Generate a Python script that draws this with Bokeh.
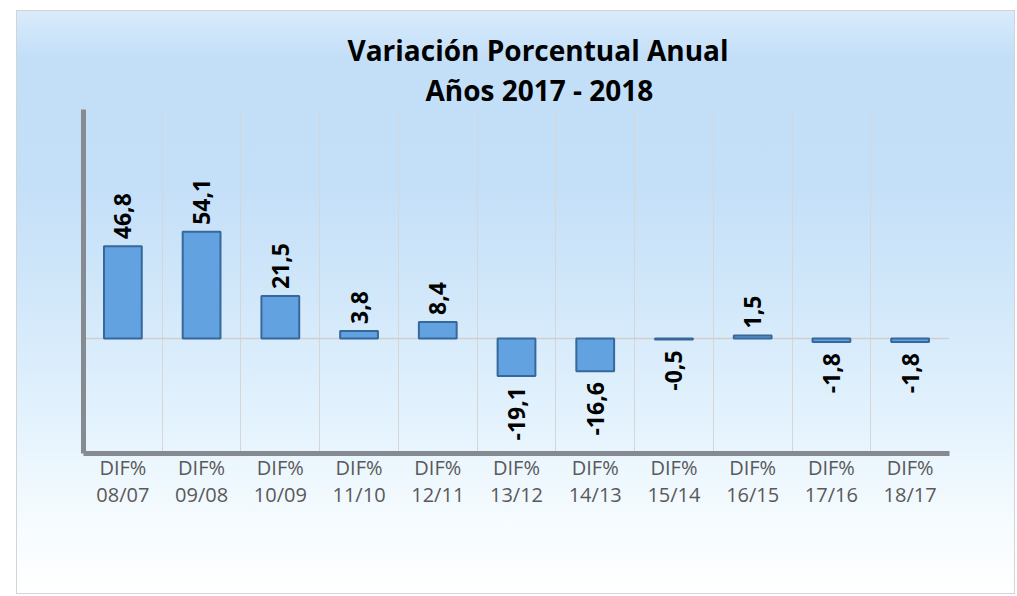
import math
from bokeh.plotting import figure
from bokeh.models import ColumnDataSource, Range1d, FixedTicker, Title
from bokeh.core.properties import value
from bokeh.embed import file_html
from bokeh.resources import INLINE

# ---- data ----
categories = ["DIF%\n08/07", "DIF%\n09/08", "DIF%\n10/09", "DIF%\n11/10", "DIF%\n12/11",
              "DIF%\n13/12", "DIF%\n14/13", "DIF%\n15/14", "DIF%\n16/15", "DIF%\n17/16",
              "DIF%\n18/17"]
values = [46.8, 54.1, 21.5, 3.8, 8.4, -19.1, -16.6, -0.5, 1.5, -1.8, -1.8]
title_line1 = "Variación Porcentual Anual"
title_line2 = "Años 2017 - 2018"

n = len(categories)
xs = [i + 0.5 for i in range(n)]
labels = [f"{v:.1f}".replace(".", ",") for v in values]

src = ColumnDataSource(dict(x=xs, top=values, label=labels))
pos = ColumnDataSource(dict(x=[x for x, v in zip(xs, values) if v >= 0],
                            y=[v for v in values if v >= 0],
                            label=[l for l, v in zip(labels, values) if v >= 0]))
neg = ColumnDataSource(dict(x=[x for x, v in zip(xs, values) if v < 0],
                            y=[v for v in values if v < 0],
                            label=[l for l, v in zip(labels, values) if v < 0]))

p = figure(width=999, height=584, output_backend="svg", toolbar_location=None,
           x_range=Range1d(0, n), y_range=Range1d(-58.4, 116.2),
           min_border_left=66, min_border_right=67, min_border_top=98, min_border_bottom=142,
           border_fill_color=None, background_fill_color=None, outline_line_color=None)

p.styles = {
    "background": "linear-gradient(to bottom, #d9ebfb 0%, #c3dff8 8%, #c4dff8 30%, #d2e8fa 50%, #e3f2fd 70%, #f3fafe 85%, #ffffff 100%)",
    "border": "1px solid #d4d4d4",
    "margin-left": "16px",
    "margin-top": "10px",
}

# titles
p.add_layout(Title(text=title_line2, align="left", offset=342, text_font="Open Sans",
                   text_font_size="28px", text_font_style="bold", text_color="#000000",
                   standoff=2), "above")
p.add_layout(Title(text=title_line1, align="left", offset=264, text_font="Open Sans",
                   text_font_size="28px", text_font_style="bold", text_color="#000000",
                   standoff=-2), "above")

# grid
p.xgrid.ticker = FixedTicker(ticks=list(range(1, n + 1)))
p.xgrid.grid_line_color = "#d6d6d6"
p.xgrid.grid_line_width = 1
p.ygrid.ticker = FixedTicker(ticks=[0])
p.ygrid.grid_line_color = "#cfcfcf"
p.ygrid.grid_line_width = 1.5

# bars
p.vbar(x="x", top="top", bottom=0, width=0.48, source=src,
       fill_color="#62a2e0", line_color="#37689b", line_width=2)

# labels
p.text(x="x", y="y", text="label", source=pos, angle=math.pi / 2,
       text_align="left", text_baseline="middle", y_offset=-7,
       text_font=value("Open Sans"), text_font_size="23px", text_font_style="bold",
       text_color="#000000")
p.text(x="x", y="y", text="label", source=neg, angle=math.pi / 2,
       text_align="right", text_baseline="middle", y_offset=11,
       text_font=value("Open Sans"), text_font_size="23px", text_font_style="bold",
       text_color="#000000")

# axes
p.xaxis.ticker = FixedTicker(ticks=xs)
p.xaxis.major_label_overrides = {x: c for x, c in zip(xs, categories)}
p.xaxis.major_tick_line_color = None
p.xaxis.minor_tick_line_color = None
p.xaxis.axis_line_color = "#858b91"
p.xaxis.axis_line_width = 5
p.xaxis.major_label_standoff = -6
p.xaxis.major_label_text_font = "Open Sans"
p.xaxis.major_label_text_font_size = "20px"
p.xaxis.major_label_text_color = "#595959"
p.xaxis.major_label_text_line_height = 1.0

p.yaxis.ticker = FixedTicker(ticks=[])
p.yaxis.major_tick_line_color = None
p.yaxis.minor_tick_line_color = None
p.yaxis.major_label_text_color = None
p.yaxis.axis_line_color = "#858b91"
p.yaxis.axis_line_width = 5

open("out.html", "w").write(file_html(p, INLINE))
